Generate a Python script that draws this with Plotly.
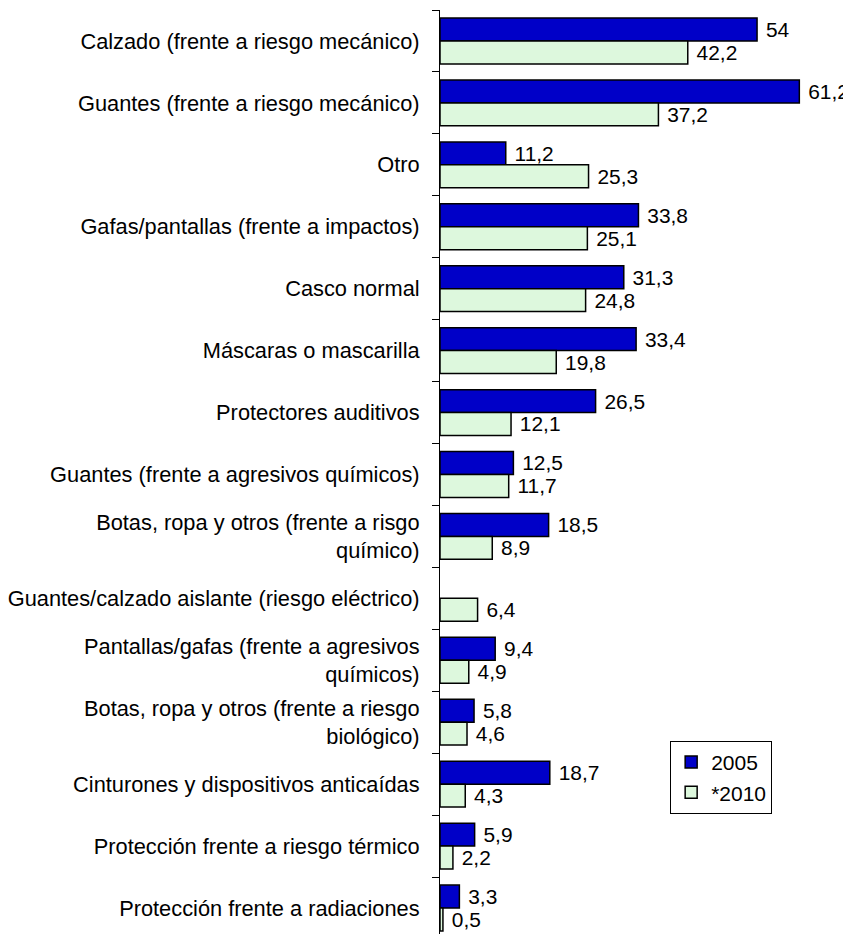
import plotly.graph_objects as go

categories = [
    "Calzado (frente a riesgo mecánico)",
    "Guantes (frente a riesgo mecánico)",
    "Otro",
    "Gafas/pantallas (frente a impactos)",
    "Casco normal",
    "Máscaras o mascarilla",
    "Protectores auditivos",
    "Guantes (frente a agresivos químicos)",
    "Botas, ropa y otros (frente a risgo<br>químico)",
    "Guantes/calzado aislante (riesgo eléctrico)",
    "Pantallas/gafas (frente a agresivos<br>químicos)",
    "Botas, ropa y otros (frente a riesgo<br>biológico)",
    "Cinturones y dispositivos anticaídas",
    "Protección frente a riesgo térmico",
    "Protección frente a radiaciones",
]
values_2005 = [54, 61.2, 11.2, 33.8, 31.3, 33.4, 26.5, 12.5, 18.5, None, 9.4, 5.8, 18.7, 5.9, 3.3]
values_2010 = [42.2, 37.2, 25.3, 25.1, 24.8, 19.8, 12.1, 11.7, 8.9, 6.4, 4.9, 4.6, 4.3, 2.2, 0.5]
series_names = ["2005", "*2010"]

FONT = "Liberation Sans, Arial"
FS = 21


def fmt(v):
    if v is None:
        return ""
    return " " + ("%g" % v).replace(".", ",")


fig = go.Figure()
fig.add_trace(go.Bar(
    y=categories, x=values_2005, orientation="h", name=series_names[0],
    legendgroup="a",
    marker=dict(color="#0000C8", line=dict(color="black", width=1.5)),
    text=[fmt(v) for v in values_2005], textposition="outside",
    textfont=dict(size=FS, color="black", family=FONT),
    cliponaxis=False,
))
fig.add_trace(go.Bar(
    y=categories, x=values_2010, orientation="h", name=series_names[1],
    legendgroup="b",
    marker=dict(color="#DDF8DD", line=dict(color="black", width=1.5)),
    text=[fmt(v) for v in values_2010], textposition="outside",
    textfont=dict(size=FS, color="black", family=FONT),
    cliponaxis=False,
))

# page body has an 8px margin, so the figure is drawn 8px smaller and shifted
fig.update_layout(
    width=843, height=926,
    margin=dict(l=432, r=0, t=2, b=0, autoexpand=False),
    paper_bgcolor="white", plot_bgcolor="white",
    barmode="group", bargap=0.26, bargroupgap=0,
    font=dict(family=FONT, size=FS, color="black"),
    showlegend=True,
    legend=dict(
        x=0.56, y=0.209, xanchor="left", yanchor="top",
        bordercolor="black", borderwidth=1, bgcolor="white",
        font=dict(size=FS), tracegroupgap=0, traceorder="grouped",
    ),
    xaxis=dict(range=[0, 70], visible=False, showgrid=False, zeroline=False,
               automargin=False),
    yaxis=dict(
        range=[14.42, -0.5], type="category", automargin=False,
        showline=True, linecolor="black", linewidth=1,
        ticks="outside", tickson="boundaries", ticklen=7, tickcolor="black",
        showgrid=False, ticklabelstandoff=15,
        tickfont=dict(size=21.8),
    ),
)

fig.write_html("out.html")
